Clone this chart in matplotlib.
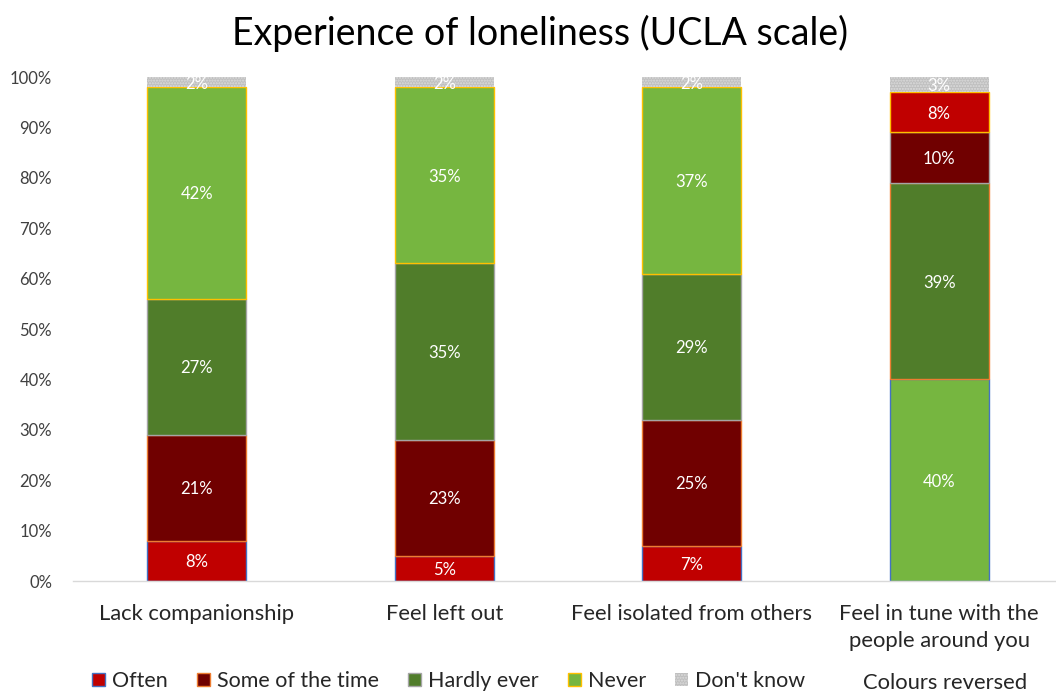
import numpy as np
import matplotlib
matplotlib.use("Agg")
import matplotlib.pyplot as plt
from matplotlib.patches import Patch

plt.rcParams["font.family"] = ["Lato", "DejaVu Sans"]
plt.rcParams["hatch.linewidth"] = 1.0

categories = ["Lack companionship", "Feel left out", "Feel isolated from others",
              "Feel in tune with the\npeople around you"]
series = ["Often", "Some of the time", "Hardly ever", "Never", "Don't know"]
often = [8, 5, 7, 40]
some_of_the_time = [21, 23, 25, 39]
hardly_ever = [27, 35, 29, 10]
never = [42, 35, 37, 8]
dont_know = [2, 2, 2, 3]
yticks = [0, 10, 20, 30, 40, 50, 60, 70, 80, 90, 100]

fills = ["#C00000", "#700000", "#507D2A", "#76B640", "#BFBFBF"]
edges = ["#4472C4", "#ED7D31", "#A5A5A5", "#FFC000", "#BFBFBF"]
# last bar is a positive item, so its first four colours run the other way
fills_reversed = fills[3::-1] + fills[4:]

W, H = 1056, 693
fig = plt.figure(figsize=(W / 100, H / 100), dpi=100)
ax = fig.add_axes([73 / W, 1 - 581 / H, 990 / W, 504 / H])

x = np.arange(len(categories))
values = np.array([often, some_of_the_time, hardly_ever, never, dont_know], dtype=float)
bottom = np.zeros(len(categories))
width = 0.4

for s, name in enumerate(series):
    for c in range(len(categories)):
        fc = fills_reversed[s] if c == len(categories) - 1 else fills[s]
        if s == 4:
            ax.bar(x[c], values[s, c], width, bottom=bottom[c], color=fc,
                   edgecolor="#DCDCDC", linewidth=0, hatch="......", zorder=2)
        else:
            ax.bar(x[c], values[s, c], width, bottom=bottom[c], color=fc,
                   edgecolor=edges[s], linewidth=1.0, zorder=2)
        ax.text(x[c], bottom[c] + values[s, c] / 2, f"{values[s, c]:.0f}%",
                ha="center", va="center_baseline", color="white", fontsize=12, zorder=3)
    bottom += values[s]

ax.set_xlim(-0.5, 3.5)
ax.set_ylim(0, 100)
ax.set_yticks(yticks)
ax.set_yticklabels([f"{v}%" for v in yticks])
ax.set_xticks(x)
ax.set_xticklabels(categories, fontsize=15.8, color="#262626", linespacing=1.45)
ax.tick_params(axis="y", length=0, pad=15, labelsize=12, labelcolor="#404040")
ax.tick_params(axis="x", length=0, pad=16.5)
for side in ["left", "right", "top"]:
    ax.spines[side].set_visible(False)
ax.spines["bottom"].set_color("#D9D9D9")
ax.spines["bottom"].set_linewidth(1.0)

fig.text(540 / W, 1 - 33 / H, "Experience of loneliness (UCLA scale)",
         ha="center", va="center", fontsize=27, color="#000000")

fig.text(945 / W, 1 - 683 / H, "Colours reversed", ha="center", va="center",
         fontsize=15.8, color="#262626")

handles = [Patch(facecolor=fills[i], edgecolor=edges[i], linewidth=1.0)
           for i in range(4)]
handles.append(Patch(facecolor=fills[4], edgecolor="#DCDCDC", linewidth=0, hatch="......"))
fig.legend(handles, series, loc="center left", bbox_to_anchor=(92 / W, 1 - 681 / H),
           ncol=5, frameon=False, fontsize=15.5, handlelength=0.6, handleheight=0.6,
           handletextpad=0.33, columnspacing=1.35, labelcolor="#262626", borderaxespad=0,
           borderpad=0)

fig.savefig("out.png", dpi=100)
